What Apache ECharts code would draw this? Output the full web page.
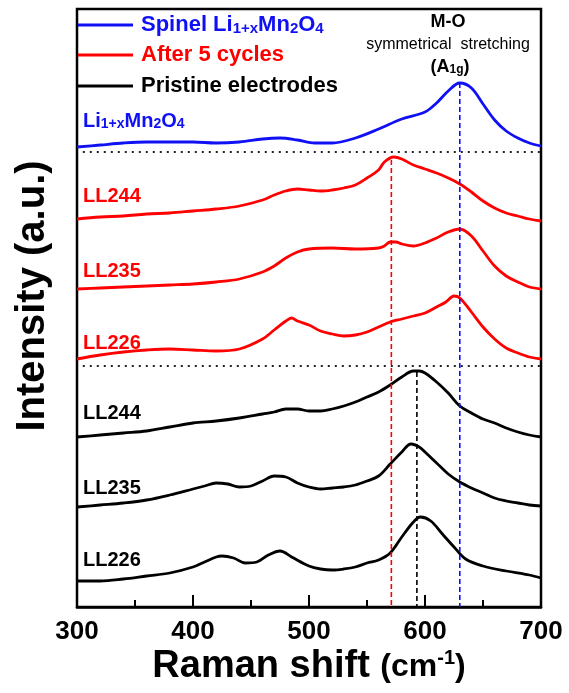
<!DOCTYPE html>
<html>
<head>
<meta charset="utf-8">
<script src="https://cdn.jsdelivr.net/npm/echarts@6/dist/echarts.min.js"></script>
<style>
  html, body { margin: 0; padding: 0; background: #fff; }
  #chart { width: 569px; height: 693px; }
</style>
</head>
<body>
<div id="chart"></div>
<script>
// Raman spectra, stacked with vertical offsets (arbitrary intensity units)
const xTicks = [300, 400, 500, 600, 700];

// Spinel Li1+xMn2O4 reference
const spinelShift = [300,320,340,360,380,400,420,440,460,475,490,505,520,540,560,580,600,610,620,630,640,650,660,670,680,690,700];
const spinelInt   = [460,462,464,465,465,465,464,465,468,469,467,464,464,469,478,488,495,504,516,524,519,503,487,476,469,464,461];

// After 5 cycles
const cyc244Shift = [300,320,340,360,380,400,420,440,460,470,480,490,500,510,520,530,540,550,560,565,573,580,590,600,610,620,630,640,650,660,670,680,690,700];
const cyc244Int   = [388,390,391,393,394,396,398,401,407,412,416,418,417,416,417,419,422,429,437,445,450,448,442,438,434,429,423,415,406,399,394,391,388,386];

const cyc235Shift = [300,320,340,360,380,400,420,440,460,470,480,490,500,520,540,560,565,570,575,580,590,600,610,620,630,640,650,660,670,680,690,700];
const cyc235Int   = [318,319,320,321,322,323,325,328,335,341,349,355,358,359,358,359,361,365,365,363,361,364,369,375,378,371,356,341,331,325,320,318];

const cyc226Shift = [300,320,340,360,380,400,420,440,460,470,480,485,490,500,510,520,530,540,550,560,570,580,590,600,610,618,625,630,640,650,660,670,680,690,700];
const cyc226Int   = [248,252,255,257,258,257,256,258,268,277,286,289,286,282,276,273,271,272,275,280,285,288,291,294,300,305,311,309,295,280,268,259,254,250,248];

// Pristine electrodes
const pri244Shift = [300,320,340,360,380,400,420,440,460,470,480,490,500,510,520,530,540,550,560,570,580,590,595,600,610,620,630,640,650,660,670,680,690,700];
const pri244Int   = [170,172,174,176,180,184,186,189,193,195,198,198,196,196,198,201,205,210,215,222,230,236,236,234,225,214,201,194,188,184,179,175,172,170];

const pri235Shift = [300,320,340,360,380,400,410,420,430,440,450,460,470,480,490,500,510,520,530,540,550,560,570,580,588,595,600,610,620,630,640,650,660,670,680,690,700];
const pri235Int   = [100,102,104,107,112,118,121,124,123,120,121,126,131,130,124,120,118,119,120,122,126,131,143,155,163,160,155,144,133,125,119,114,109,106,104,102,101];

const pri226Shift = [300,320,340,360,380,400,410,420,425,435,445,455,465,475,485,500,510,520,530,540,550,560,570,580,590,596,605,615,625,635,650,670,690,700];
const pri226Int   = [26,26,28,31,34,40,45,50,51,49,44,45,52,56,50,41,38,37,38,40,44,47,54,70,85,90,86,73,60,48,41,36,32,29];

// Horizontal separators between the groups
const separatorLevels = [455, 241];
const separatorFrom = 305;

// Reference band positions (cm-1) and the height each guide line rises to
const bandShift = [571, 593, 630];
const bandTop   = [447, 235, 524];

const BLUE = '#1010f5', RED = '#ff0000', BLACK = '#000000';
const FONT = "'Liberation Sans', Arial, Helvetica, sans-serif";

const pairs = (xs, ys) => xs.map((x, i) => [x, ys[i]]);

function spectrum(name, xs, ys, color) {
  return {
    name, type: 'line', data: pairs(xs, ys),
    showSymbol: false, smooth: 0.35, silent: true,
    lineStyle: { color, width: 2.8 }, z: 3
  };
}

const series = [
  spectrum('spinel', spinelShift, spinelInt, BLUE),
  spectrum('cyc244', cyc244Shift, cyc244Int, RED),
  spectrum('cyc235', cyc235Shift, cyc235Int, RED),
  spectrum('cyc226', cyc226Shift, cyc226Int, RED),
  spectrum('pri244', pri244Shift, pri244Int, BLACK),
  spectrum('pri235', pri235Shift, pri235Int, BLACK),
  spectrum('pri226', pri226Shift, pri226Int, BLACK)
];

separatorLevels.forEach((lvl, i) => {
  series.push({
    name: 'sep' + i, type: 'line', data: [[separatorFrom, lvl], [700, lvl]],
    showSymbol: false, silent: true,
    lineStyle: { color: '#222', width: 2, type: [2, 5] }, z: 2
  });
});

const bandColors = [RED, BLACK, BLUE];
bandShift.forEach((x, i) => {
  series.push({
    name: 'band' + i, type: 'line', data: [[x, bandTop[i]], [x, 0]],
    showSymbol: false, silent: true,
    lineStyle: { color: bandColors[i], width: 1.6, type: [5, 3] }, z: 4
  });
});

function label(text, x, y, rich) {
  return { type: 'text', x, y, z: 10, style: { text, rich, align: 'left', verticalAlign: 'middle' } };
}
function richFormula(color, big, small) {
  return {
    a: { fontSize: big, fontWeight: 'bold', fontFamily: FONT, fill: color },
    s: { fontSize: small, fontWeight: 'bold', fontFamily: FONT, fill: color, verticalAlign: 'bottom' }
  };
}
function plain(text, x, y, color, size) {
  return { type: 'text', x, y, z: 10,
    style: { text, fill: color, font: 'bold ' + size + 'px ' + FONT, align: 'left', verticalAlign: 'middle' } };
}

const graphic = [
  // legend
  { type: 'line', shape: { x1: 78, y1: 25, x2: 133, y2: 25 }, style: { stroke: BLUE, lineWidth: 3 } },
  { type: 'line', shape: { x1: 78, y1: 55, x2: 133, y2: 55 }, style: { stroke: RED, lineWidth: 3 } },
  { type: 'line', shape: { x1: 78, y1: 86, x2: 133, y2: 86 }, style: { stroke: BLACK, lineWidth: 3 } },
  label('{a|Spinel Li}{s|1+x}{a|Mn}{s|2}{a|O}{s|4}', 141, 25, richFormula(BLUE, 22, 15)),
  plain('After 5 cycles', 141, 55, RED, 22),
  plain('Pristine electrodes', 141, 86, BLACK, 22),

  // band annotation
  { type: 'text', x: 448, y: 22, style: { text: 'M-O', fill: BLACK, font: 'bold 18px ' + FONT, align: 'center', verticalAlign: 'middle' } },
  { type: 'text', x: 448, y: 45, style: { text: 'symmetrical  stretching', fill: BLACK, font: '16px ' + FONT, align: 'center', verticalAlign: 'middle' } },
  { type: 'text', x: 450, y: 67, style: { text: '{b|(A}{s|1g}{b|)}', align: 'center', verticalAlign: 'middle',
      rich: { b: { fontSize: 18, fontWeight: 'bold', fontFamily: FONT, fill: BLACK },
              s: { fontSize: 12, fontWeight: 'bold', fontFamily: FONT, fill: BLACK, verticalAlign: 'bottom' } } } },

  // curve labels
  label('{a|Li}{s|1+x}{a|Mn}{s|2}{a|O}{s|4}', 83, 121, richFormula(BLUE, 20, 14)),
  plain('LL244', 83, 196, RED, 20),
  plain('LL235', 83, 271, RED, 20),
  plain('LL226', 83, 343, RED, 20),
  plain('LL244', 83, 413, BLACK, 20),
  plain('LL235', 83, 488, BLACK, 20),
  plain('LL226', 83, 560, BLACK, 20),

  // axis titles
  { type: 'text', x: 33, y: 296, rotation: Math.PI / 2,
    style: { text: 'Intensity (a.u.)', fill: BLACK, font: 'bold 40px ' + FONT, align: 'center', verticalAlign: 'middle' } },
  { type: 'text', x: 309, y: 667,
    style: { text: '{m|Raman shift }{p|(cm}{u|-1}{p|)}', align: 'center', verticalAlign: 'middle',
      rich: { m: { fontSize: 38, fontWeight: 'bold', fontFamily: FONT, fill: BLACK },
              p: { fontSize: 32, fontWeight: 'bold', fontFamily: FONT, fill: BLACK },
              u: { fontSize: 20, fontWeight: 'bold', fontFamily: FONT, fill: BLACK, verticalAlign: 'top' } } } }
];

const chart = echarts.init(document.getElementById('chart'), null, { renderer: 'canvas' });
chart.setOption({
  animation: false,
  backgroundColor: '#fff',
  grid: { left: 77, right: 28, top: 9, bottom: 86, show: true, borderColor: BLACK, borderWidth: 2.5, backgroundColor: 'transparent' },
  xAxis: {
    type: 'value', min: xTicks[0], max: xTicks[xTicks.length - 1], interval: 100,
    axisLine: { show: true, onZero: false, lineStyle: { color: BLACK, width: 2.5 } },
    axisTick: { show: true, inside: true, length: 12, lineStyle: { color: BLACK, width: 2 } },
    minorTick: { show: true, splitNumber: 2, length: 7, lineStyle: { color: BLACK, width: 2 } },
    splitLine: { show: false },
    axisLabel: { color: BLACK, fontSize: 26, fontWeight: 'bold', fontFamily: FONT, margin: 12,
      formatter: v => (xTicks.indexOf(v) >= 0 ? String(v) : '') }
  },
  yAxis: {
    type: 'value', min: 0, max: 598,
    axisLine: { show: false }, axisTick: { show: false }, axisLabel: { show: false }, splitLine: { show: false }
  },
  series,
  graphic
});
</script>
</body>
</html>
